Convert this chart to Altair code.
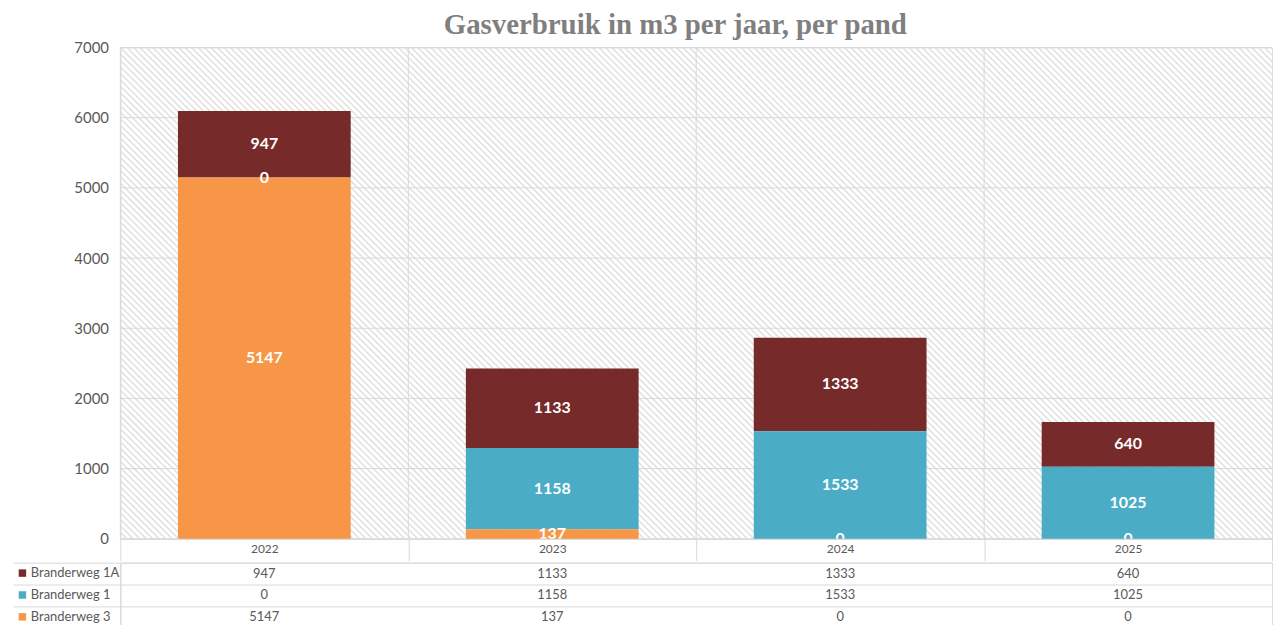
import altair as alt
import pandas as pd
import numpy as np

# ---- data ----
years = ["2022", "2023", "2024", "2025"]
series = ["Branderweg 1A", "Branderweg 1", "Branderweg 3"]
v_1a = [947, 1133, 1333, 640]
v_1 = [0, 1158, 1533, 1025]
v_3 = [5147, 137, 0, 0]
colors = ["#772A2A", "#4BACC6", "#F79646"]
stack_rank = {"Branderweg 3": 0, "Branderweg 1": 1, "Branderweg 1A": 2}
y_ticks = [0, 1000, 2000, 3000, 4000, 5000, 6000, 7000]

rows = []
for s, vals in zip(series, [v_1a, v_1, v_3]):
    for yr, v in zip(years, vals):
        rows.append({"year": yr, "series": s, "value": v, "rank": stack_rank[s]})
df = pd.DataFrame(rows)

# ---- layout / style ----
W, H = 1158, 494
TH = 66
GRID = "#d9d9d9"
TXT = "#595959"
FONT = "Lato"

# decorative hatch texture for the plot background (pixel space)
step = 6.5
x0s = np.arange(-H, W + step, step)
hatch = pd.DataFrame({"xa": x0s, "xb": x0s + H, "ya": H, "yb": 0})

hatch_layer = alt.Chart(hatch).mark_rule(clip=True, color="#e0e0e0", strokeWidth=1.5).encode(
    x=alt.X("xa:Q", scale=alt.Scale(domain=[0, W], nice=False, zero=False), axis=None),
    x2="xb:Q",
    y=alt.Y("ya:Q", scale=alt.Scale(domain=[0, H], nice=False, zero=False), axis=None),
    y2="yb:Q",
)

xscale = alt.Scale(domain=years, paddingInner=0, paddingOuter=0)
yscale = alt.Scale(domain=[0, 7000], nice=False)

x_axis = alt.Axis(labelAngle=0, labelFont=FONT, labelFontSize=12, labelColor=TXT,
                  tickBand="extent", tickSize=22, tickColor=GRID, domainColor=GRID,
                  labelPadding=-17, grid=False)
y_axis = alt.Axis(values=y_ticks, format="d", labelFont=FONT, labelFontSize=15, labelColor=TXT,
                  ticks=False, domain=False, grid=False, labelPadding=12)

hgrid = alt.Chart(pd.DataFrame({"t": y_ticks})).mark_rule(color=GRID, strokeWidth=1).encode(
    y=alt.Y("t:Q", scale=yscale, title=None, axis=y_axis)
)
vgrid = alt.Chart(pd.DataFrame({"year": years})).mark_rule(color=GRID, strokeWidth=1).encode(
    x=alt.X("year:N", scale=xscale, bandPosition=0, title=None, axis=x_axis)
)

bars = alt.Chart(df).mark_bar(width=alt.RelativeBandSize(0.6)).encode(
    x=alt.X("year:N", scale=xscale, title=None, axis=x_axis),
    y=alt.Y("value:Q", stack="zero", scale=yscale, title=None, axis=y_axis),
    color=alt.Color("series:N", scale=alt.Scale(domain=series, range=colors),
                    legend=alt.Legend(orient="none", legendX=-105, legendY=H + 28, title=None,
                                      symbolType="square", symbolSize=56, symbolStrokeWidth=0,
                                      labelFont=FONT, labelFontSize=13, labelColor=TXT,
                                      rowPadding=8, labelOffset=2)),
    order=alt.Order("rank:Q", sort="ascending"),
)

labels = alt.Chart(df).transform_stack(
    stack="value", groupby=["year"], as_=["y0", "y1"], sort=[alt.SortField("rank", order="ascending")]
).transform_calculate(mid="(datum.y0 + datum.y1) / 2").mark_text(
    clip=True, color="white", font=FONT, fontWeight="bold", fontSize=16
).encode(
    x=alt.X("year:N", scale=xscale, title=None, axis=x_axis),
    y=alt.Y("mid:Q", scale=yscale, title=None, axis=y_axis),
    text=alt.Text("value:Q"),
)

top = alt.layer(
    hatch_layer, alt.layer(hgrid, vgrid, bars, labels)
).resolve_scale(x="independent", y="independent").properties(
    width=W, height=H,
    title=alt.TitleParams("Gasverbruik in m3 per jaar, per pand", font="Liberation Serif",
                          fontSize=29, fontWeight="bold", color="#7f7f7f", anchor="middle",
                          dx=-21, offset=1),
)

row_scale = alt.Scale(domain=series, paddingInner=0, paddingOuter=0)
table_text = alt.Chart(df).mark_text(font=FONT, fontSize=13, color=TXT).encode(
    x=alt.X("year:N", scale=xscale, title=None,
            axis=alt.Axis(orient="top", labels=False, ticks=False, domain=False, grid=True,
                          tickBand="extent", gridColor=GRID)),
    y=alt.Y("series:N", scale=row_scale, title=None,
            axis=alt.Axis(labels=False, ticks=True, tickSize=108, tickColor=GRID, domain=False,
                          grid=True, gridColor=GRID, tickBand="extent")),
    text=alt.Text("value:Q"),
)
table_edge = alt.Chart(df).mark_text(opacity=0).encode(
    x=alt.X("year:N", scale=xscale, axis=None),
    y=alt.Y("series:N", scale=row_scale, title=None,
            axis=alt.Axis(orient="left", labels=False, ticks=False, grid=False, domain=True,
                          domainColor=GRID)),
    text=alt.Text("value:Q"),
)
table = alt.layer(table_text, table_edge).resolve_scale(y="independent").properties(width=W, height=TH)

chart = alt.vconcat(top, table, spacing=0).properties(
    padding={"left": 4, "top": 0, "right": 0, "bottom": 0}
).configure_view(stroke=GRID).configure(background="white")

chart.save("out.html", embed_options={"renderer": "svg", "actions": False})
